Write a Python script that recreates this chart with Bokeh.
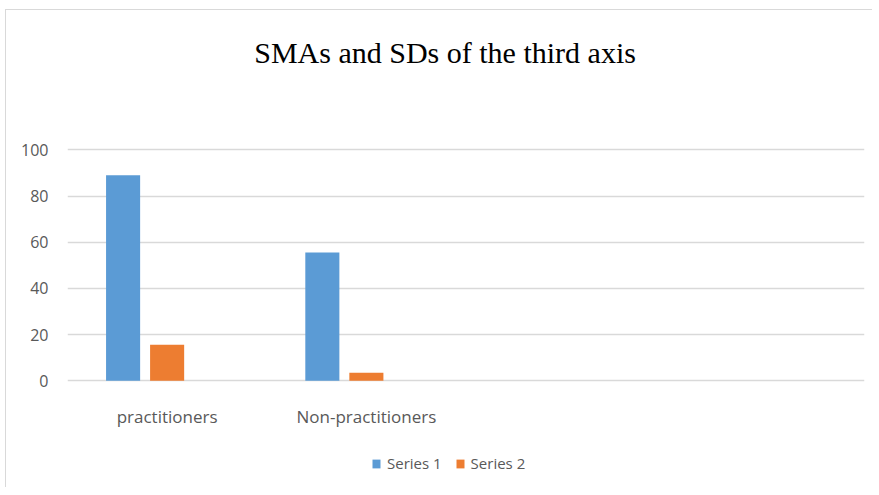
from bokeh.plotting import figure
from bokeh.models import (FactorRange, Range1d, Legend, LegendItem,
                          ColumnDataSource, FixedTicker)
from bokeh.core.properties import value
from bokeh.transform import dodge
from bokeh.embed import file_html
from bokeh.resources import INLINE

# ---- data ----
title_text = "SMAs and SDs of the third axis"
categories = ["practitioners", "Non-practitioners"]
empty_slots = [" ", "  "]
series_names = ["Series 1", "Series 2"]
series1 = [89, 55.5]
series2 = [15.6, 3.5]
y_ticks = [0, 20, 40, 60, 80, 100]
colors = ["#5b9bd5", "#ed7d31"]

src = ColumnDataSource(dict(cat=categories, s1=series1, s2=series2,
                            base=[0] * len(categories)))

# the plotting frame covers the whole chart box; the value axis shows 0..100
p = figure(width=867, height=478,
           x_range=FactorRange(*(categories + empty_slots), range_padding=0),
           y_range=Range1d(-46.6, 160.3),
           output_backend="svg", toolbar_location=None,
           min_border_left=61, min_border_right=9,
           min_border_top=0, min_border_bottom=0)
p.styles = {"border-left": "1px solid #d9d9d9", "border-top": "1px solid #d9d9d9",
            "margin-left": "5px", "margin-top": "9px"}

r1 = p.vbar(x=dodge("cat", -0.221, range=p.x_range), top="s1", width=0.171,
            source=src, color=colors[0], line_color=None)
r2 = p.vbar(x=dodge("cat", 0.0, range=p.x_range), top="s2", width=0.171,
            source=src, color=colors[1], line_color=None)

# category labels under the zero line
p.text(x="cat", y="base", text="cat", source=src, y_offset=36,
       text_align="center", text_baseline="middle",
       text_font=value("Open Sans"), text_font_size="17px", text_color="#595959")

# chart title, above the top of the value axis
title_src = ColumnDataSource(dict(x=[1.895], y=[y_ticks[-1]], t=[title_text]))
p.text(x="x", y="y", text="t", source=title_src, y_offset=-97,
       text_align="center", text_baseline="middle",
       text_font=value("Liberation Serif"), text_font_size="30px",
       text_color="#000000")

p.outline_line_color = None
p.background_fill_color = None
p.xgrid.grid_line_color = None
p.ygrid.grid_line_color = "#d9d9d9"
p.ygrid.grid_line_width = 1.5
p.ygrid.ticker = FixedTicker(ticks=y_ticks)

p.yaxis.ticker = FixedTicker(ticks=y_ticks)
p.yaxis.axis_line_color = None
p.yaxis.major_tick_line_color = None
p.yaxis.minor_tick_line_color = None
p.yaxis.major_label_text_color = "#595959"
p.yaxis.major_label_text_font = "Open Sans"
p.yaxis.major_label_text_font_size = "16px"
p.yaxis.major_label_standoff = 13

p.xaxis.visible = False

legend = Legend(items=[LegendItem(label=series_names[0], renderers=[r1]),
                       LegendItem(label=series_names[1], renderers=[r2])],
                orientation="horizontal", location=(304, 15),
                border_line_color=None, background_fill_alpha=0,
                padding=0, margin=0, spacing=13,
                glyph_width=10, glyph_height=11, label_standoff=6,
                label_text_font="Open Sans", label_text_font_size="15px",
                label_text_color="#595959")
p.add_layout(legend, "center")

open("out.html", "w").write(file_html(p, INLINE))
